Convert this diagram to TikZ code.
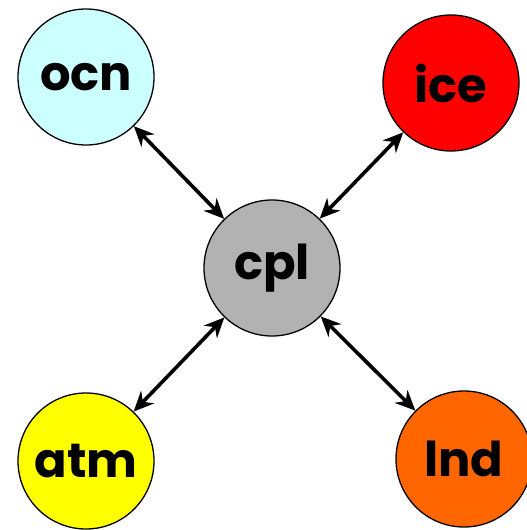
\documentclass[tikz,border=0pt]{standalone}
\usepackage{fontspec}
\setsansfont{Poppins}
\usetikzlibrary{
  arrows.meta,
  positioning,  % Function "of" (e.g. [right=of x])
}
\definecolor{ocncol}{RGB}{204,255,255}
\definecolor{icecol}{RGB}{255,0,0}
\definecolor{cplcol}{RGB}{178,178,178}
\definecolor{atmcol}{RGB}{255,255,0}
\definecolor{lndcol}{RGB}{255,102,0}
\def\myrad{136pt}
\tikzset{
  font=\sffamily\bfseries,
  >={Stealth[length=20pt,width=18pt]},
  my comp/.style={
    draw,
    circle,
    line width=1.3pt,
    minimum size=\myrad,
    inner sep=0mm,
    font=\fontsize{48}{52}\selectfont\sffamily\bfseries
  },
  my link/.style={
    <->,
    line width=3.6pt
  }
}
\begin{document}
\begin{tikzpicture}[x=1pt,y=-1pt]
\useasboundingbox (0,0) rectangle (527,530);
\node[my comp,fill=cplcol] (cpl) at (272,268) {cpl};
\node[my comp,fill=ocncol] (ocn) at (86,77)   {ocn};
\node[my comp,fill=icecol] (ice) at (451,83)  {ice};
\node[my comp,fill=atmcol] (atm) at (86,461)  {atm};
\node[my comp,fill=lndcol] (lnd) at (464,459) {lnd};
\path[my link] (ocn) edge (cpl)
               (ice) edge (cpl)
               (atm) edge (cpl)
               (lnd) edge (cpl);
\end{tikzpicture}
\end{document}
